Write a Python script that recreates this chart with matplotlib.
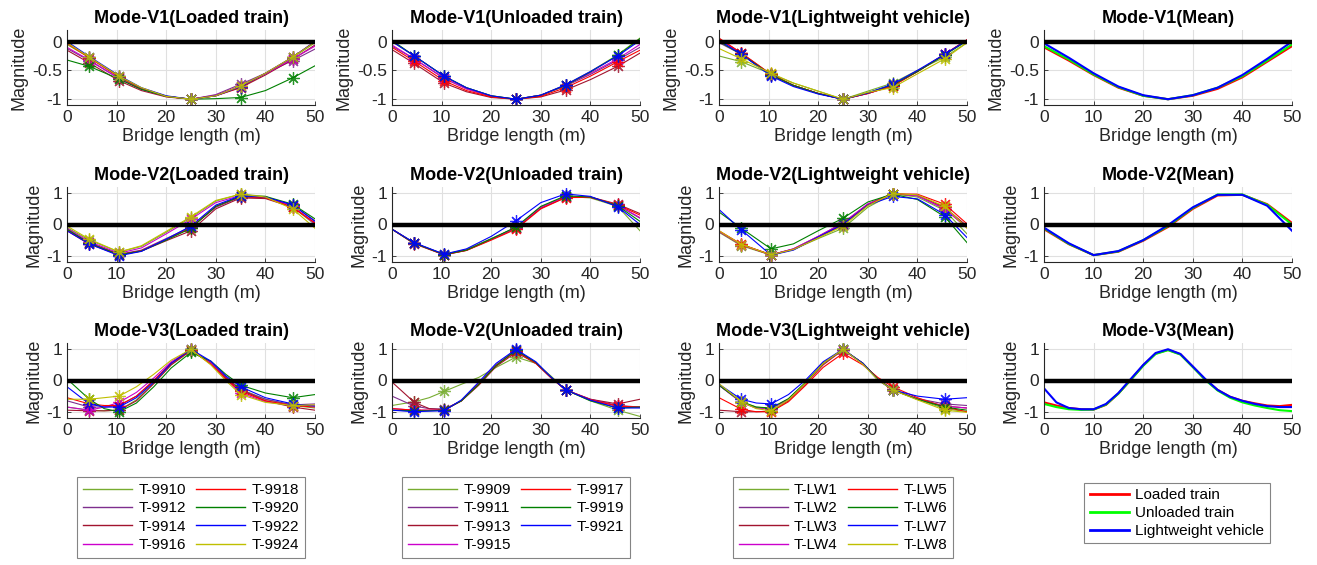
import matplotlib
matplotlib.use("Agg")
import matplotlib.pyplot as plt
from matplotlib.lines import Line2D
import numpy as np

plt.rcParams['font.family'] = ['Liberation Sans', 'DejaVu Sans']
plt.rcParams['axes.unicode_minus'] = False

x12 = [0, 4.5, 10.5, 15, 20, 25, 30, 35, 40, 45.5, 50]
x3 = [0, 4.5, 7.5, 10.5, 14, 17.5, 21, 25, 29, 32, 35, 40, 45.5, 50]
sensors12 = [1, 2, 5, 7, 9]
sensors3 = [1, 3, 7, 10, 12]
xm12 = [0, 5, 10, 15, 20, 25, 30, 35, 40, 45, 50]
xm3 = [0, 2.5, 5, 7.5, 10, 12.5, 15, 17.5, 20, 22.5, 25, 27.5, 30, 32.5, 35, 37.5, 40, 42.5, 45, 47.5, 50]

loaded_names = ['T-9910', 'T-9912', 'T-9914', 'T-9916', 'T-9918', 'T-9920', 'T-9922', 'T-9924']
unloaded_names = ['T-9909', 'T-9911', 'T-9913', 'T-9915', 'T-9917', 'T-9919', 'T-9921']
lw_names = ['T-LW1', 'T-LW2', 'T-LW3', 'T-LW4', 'T-LW5', 'T-LW6', 'T-LW7', 'T-LW8']

colors = [(0.466, 0.674, 0.188), (0.494, 0.184, 0.556), (0.635, 0.078, 0.184), (0.8, 0.0, 0.8),
          (1.0, 0.0, 0.0), (0.0, 0.5, 0.0), (0.0, 0.0, 1.0), (0.75, 0.75, 0.0)]

v1_loaded = [
    [-0.05, -0.28, -0.62, -0.81, -0.95, -1, -0.94, -0.78, -0.56, -0.28, -0.02],
    [-0.12, -0.33, -0.64, -0.82, -0.95, -1, -0.92, -0.74, -0.55, -0.33, -0.13],
    [-0.15, -0.37, -0.68, -0.85, -0.96, -1, -0.94, -0.80, -0.58, -0.31, -0.06],
    [-0.10, -0.32, -0.64, -0.83, -0.95, -1, -0.93, -0.77, -0.56, -0.30, -0.08],
    [-0.03, -0.28, -0.61, -0.81, -0.95, -1, -0.94, -0.79, -0.55, -0.27, 0.00],
    [-0.32, -0.43, -0.65, -0.83, -0.95, -1, -0.99, -0.97, -0.85, -0.63, -0.42],
    [0.00, -0.26, -0.59, -0.80, -0.94, -1, -0.94, -0.78, -0.55, -0.27, 0.00],
    [-0.02, -0.27, -0.60, -0.80, -0.95, -1, -0.94, -0.77, -0.55, -0.27, -0.01],
]
v1_unloaded = [
    [0.00, -0.25, -0.60, -0.80, -0.94, -1, -0.93, -0.75, -0.52, -0.23, 0.06],
    [-0.08, -0.30, -0.64, -0.82, -0.95, -1, -0.93, -0.77, -0.57, -0.32, -0.10],
    [-0.14, -0.38, -0.72, -0.87, -0.97, -1, -0.96, -0.84, -0.66, -0.43, -0.20],
    [-0.06, -0.30, -0.63, -0.82, -0.95, -1, -0.93, -0.76, -0.55, -0.30, -0.05],
    [-0.10, -0.34, -0.68, -0.85, -0.96, -1, -0.95, -0.80, -0.60, -0.35, -0.15],
    [0.02, -0.25, -0.60, -0.80, -0.94, -1, -0.93, -0.76, -0.53, -0.24, 0.05],
    [0.00, -0.25, -0.60, -0.80, -0.94, -1, -0.93, -0.75, -0.52, -0.25, 0.02],
]
v1_lw = [
    [-0.25, -0.35, -0.56, -0.72, -0.86, -1, -0.86, -0.72, -0.50, -0.27, -0.02],
    [-0.02, -0.22, -0.58, -0.76, -0.90, -1, -0.90, -0.76, -0.52, -0.23, 0.02],
    [0.05, -0.20, -0.57, -0.76, -0.90, -1, -0.90, -0.77, -0.52, -0.22, 0.03],
    [0.02, -0.21, -0.58, -0.76, -0.90, -1, -0.90, -0.76, -0.52, -0.22, 0.02],
    [0.06, -0.20, -0.57, -0.76, -0.90, -1, -0.90, -0.77, -0.52, -0.22, 0.03],
    [0.00, -0.22, -0.58, -0.76, -0.90, -1, -0.89, -0.75, -0.52, -0.23, 0.01],
    [0.02, -0.22, -0.60, -0.78, -0.91, -1, -0.89, -0.74, -0.50, -0.22, 0.02],
    [-0.12, -0.30, -0.55, -0.72, -0.86, -1, -0.88, -0.80, -0.56, -0.30, -0.02],
]
v2_loaded = [
    [-0.10, -0.50, -0.88, -0.70, -0.25, 0.22, 0.75, 0.97, 0.90, 0.55, 0.00],
    [-0.15, -0.58, -0.95, -0.82, -0.45, -0.08, 0.55, 0.88, 0.85, 0.62, 0.12],
    [-0.20, -0.63, -0.97, -0.85, -0.52, -0.20, 0.50, 0.85, 0.83, 0.55, 0.05],
    [-0.12, -0.55, -0.92, -0.75, -0.30, 0.17, 0.70, 0.93, 0.88, 0.58, 0.02],
    [-0.18, -0.60, -0.97, -0.84, -0.48, -0.10, 0.58, 0.90, 0.86, 0.55, 0.05],
    [-0.15, -0.60, -0.97, -0.85, -0.50, -0.12, 0.58, 0.90, 0.90, 0.65, 0.18],
    [-0.20, -0.62, -1.00, -0.86, -0.47, -0.05, 0.62, 0.92, 0.88, 0.63, 0.10],
    [-0.05, -0.47, -0.88, -0.68, -0.22, 0.25, 0.77, 0.97, 0.88, 0.50, -0.12],
]
v2_unloaded = [
    [-0.15, -0.60, -0.95, -0.80, -0.45, -0.10, 0.55, 0.90, 0.85, 0.58, -0.20],
    [-0.15, -0.60, -0.96, -0.82, -0.47, -0.10, 0.55, 0.88, 0.87, 0.62, 0.20],
    [-0.15, -0.62, -0.97, -0.83, -0.48, -0.12, 0.52, 0.87, 0.88, 0.65, 0.35],
    [-0.15, -0.60, -0.96, -0.82, -0.47, -0.10, 0.55, 0.88, 0.87, 0.62, 0.22],
    [-0.15, -0.60, -0.97, -0.83, -0.50, -0.15, 0.50, 0.86, 0.87, 0.63, 0.30],
    [-0.15, -0.60, -0.96, -0.82, -0.46, -0.08, 0.58, 0.92, 0.88, 0.60, 0.10],
    [-0.15, -0.58, -0.95, -0.78, -0.38, 0.12, 0.70, 0.98, 0.90, 0.57, 0.00],
]
v2_lw = [
    [-0.25, -0.68, -0.98, -0.80, -0.45, -0.12, 0.55, 0.98, 0.88, 0.45, -0.30],
    [-0.22, -0.65, -0.97, -0.78, -0.38, 0.05, 0.65, 0.99, 0.92, 0.50, -0.10],
    [-0.22, -0.65, -0.97, -0.79, -0.40, 0.00, 0.63, 0.99, 0.93, 0.55, -0.05],
    [-0.22, -0.65, -0.97, -0.78, -0.38, 0.05, 0.66, 0.99, 0.92, 0.50, -0.10],
    [-0.20, -0.63, -0.97, -0.80, -0.42, 0.00, 0.62, 0.98, 0.97, 0.65, 0.02],
    [0.40, -0.12, -0.78, -0.62, -0.20, 0.20, 0.72, 0.97, 0.80, 0.25, -0.58],
    [0.48, -0.17, -0.98, -0.82, -0.40, 0.00, 0.62, 0.90, 0.82, 0.32, -0.42],
    [-0.20, -0.64, -0.97, -0.80, -0.43, -0.05, 0.60, 0.99, 0.95, 0.58, -0.12],
]
v3_loaded = [
    [-0.85, -0.95, -0.97, -0.95, -0.62, -0.08, 0.50, 0.95, 0.55, 0.10, -0.28, -0.60, -0.80, -0.88],
    [-0.65, -0.85, -0.85, -0.80, -0.50, 0.00, 0.55, 0.97, 0.58, 0.12, -0.30, -0.60, -0.78, -0.75],
    [-0.95, -0.97, -0.97, -0.95, -0.65, -0.10, 0.50, 0.97, 0.55, 0.08, -0.30, -0.65, -0.85, -0.95],
    [-0.85, -0.95, -0.85, -0.70, -0.38, 0.08, 0.60, 1.00, 0.55, 0.05, -0.40, -0.68, -0.80, -0.80],
    [-0.55, -0.75, -0.80, -0.80, -0.50, 0.00, 0.55, 0.98, 0.52, 0.05, -0.35, -0.65, -0.80, -0.85],
    [0.05, -0.60, -0.90, -1.00, -0.72, -0.20, 0.40, 0.90, 0.62, 0.20, -0.15, -0.40, -0.55, -0.45],
    [-0.20, -0.75, -0.85, -0.85, -0.55, -0.05, 0.55, 1.00, 0.62, 0.15, -0.20, -0.55, -0.75, -0.82],
    [-0.60, -0.60, -0.55, -0.50, -0.20, 0.20, 0.65, 1.00, 0.50, 0.00, -0.45, -0.70, -0.80, -0.78],
]
v3_unloaded = [
    [-0.80, -0.68, -0.55, -0.35, -0.12, 0.10, 0.42, 0.75, 0.55, 0.15, -0.30, -0.65, -0.95, -1.15],
    [-0.50, -0.82, -0.90, -0.92, -0.65, -0.10, 0.50, 0.95, 0.55, 0.10, -0.30, -0.60, -0.80, -0.85],
    [-0.05, -0.70, -0.90, -0.93, -0.65, -0.15, 0.45, 0.90, 0.55, 0.10, -0.30, -0.60, -0.75, -0.60],
    [-0.90, -0.95, -0.95, -0.95, -0.65, -0.10, 0.50, 0.97, 0.56, 0.10, -0.30, -0.62, -0.82, -0.85],
    [-0.90, -0.95, -0.95, -0.95, -0.65, -0.12, 0.48, 0.95, 0.55, 0.10, -0.30, -0.62, -0.82, -0.85],
    [-0.95, -0.97, -0.97, -0.95, -0.65, -0.12, 0.48, 0.97, 0.58, 0.12, -0.30, -0.65, -0.88, -0.85],
    [-0.95, -1.00, -0.98, -0.97, -0.62, -0.05, 0.55, 1.00, 0.60, 0.12, -0.30, -0.63, -0.88, -0.88],
]
v3_lw = [
    [-0.15, -0.68, -0.85, -0.90, -0.60, -0.08, 0.55, 1.00, 0.55, 0.05, -0.30, -0.60, -0.90, -1.00],
    [-0.15, -0.70, -0.88, -0.90, -0.60, -0.08, 0.55, 0.98, 0.55, 0.05, -0.30, -0.58, -0.75, -0.80],
    [-0.95, -1.00, -1.00, -0.98, -0.65, -0.10, 0.50, 0.98, 0.55, 0.05, -0.28, -0.60, -0.82, -0.88],
    [-0.15, -0.70, -0.88, -0.90, -0.60, -0.08, 0.55, 0.98, 0.55, 0.05, -0.30, -0.60, -0.82, -0.88],
    [-0.55, -0.92, -1.00, -1.00, -0.68, -0.15, 0.42, 0.87, 0.50, 0.10, -0.20, -0.55, -0.85, -1.00],
    [-0.15, -0.68, -0.85, -0.88, -0.58, -0.05, 0.55, 1.00, 0.55, 0.05, -0.30, -0.60, -0.85, -0.95],
    [-0.12, -0.60, -0.72, -0.75, -0.45, 0.02, 0.60, 1.00, 0.55, 0.02, -0.30, -0.50, -0.60, -0.55],
    [-0.10, -0.68, -0.90, -0.97, -0.62, -0.08, 0.55, 1.00, 0.52, 0.02, -0.30, -0.62, -0.95, -1.02],
]

# mean mode shapes (loaded, unloaded, lightweight)
v1_mean_loaded = [-0.10, -0.33, -0.58, -0.80, -0.94, -1.0, -0.94, -0.82, -0.62, -0.35, -0.08]
v1_mean_unloaded = [-0.08, -0.31, -0.57, -0.79, -0.94, -1.0, -0.93, -0.80, -0.60, -0.33, -0.05]
v1_mean_lw = [-0.03, -0.28, -0.55, -0.78, -0.93, -1.0, -0.93, -0.80, -0.58, -0.30, 0.00]
v2_mean_loaded = [-0.15, -0.63, -0.98, -0.87, -0.52, -0.08, 0.50, 0.93, 0.95, 0.65, 0.05]
v2_mean_unloaded = [-0.12, -0.62, -0.98, -0.86, -0.50, -0.05, 0.53, 0.96, 0.96, 0.63, 0.00]
v2_mean_lw = [-0.10, -0.60, -0.98, -0.85, -0.50, -0.02, 0.55, 0.95, 0.95, 0.60, -0.20]
v3_mean_loaded = [-0.70, -0.80, -0.88, -0.92, -0.93, -0.78, -0.42, 0.02, 0.48, 0.86, 0.98, 0.84, 0.44, 0.03,
                  -0.30, -0.52, -0.65, -0.73, -0.80, -0.82, -0.78]
v3_mean_unloaded = [-0.75, -0.85, -0.92, -0.94, -0.93, -0.77, -0.42, 0.02, 0.47, 0.85, 0.97, 0.83, 0.43, 0.02,
                    -0.32, -0.55, -0.70, -0.80, -0.88, -0.95, -0.98]
v3_mean_lw = [-0.25, -0.70, -0.88, -0.92, -0.92, -0.75, -0.40, 0.05, 0.50, 0.88, 1.00, 0.85, 0.45, 0.05,
              -0.30, -0.52, -0.65, -0.75, -0.82, -0.85, -0.85]

W, H = 1317, 565
fig = plt.figure(figsize=(W / 100, H / 100), dpi=100)

col_left = [67, 392, 719, 1044]
row_top = [30, 187, 343]
ax_w, ax_h = 248, 75


def make_ax(r, c):
    return fig.add_axes([col_left[c] / W, 1 - (row_top[r] + ax_h) / H, ax_w / W, ax_h / H])


def style(ax, title, ylim, yticks):
    ax.set_xlim(0, 50)
    ax.set_ylim(*ylim)
    ax.set_xticks([0, 10, 20, 30, 40, 50])
    ax.set_yticks(yticks)
    ax.set_yticklabels([('%g' % t) for t in yticks])
    ax.grid(True, color=(0.88, 0.88, 0.88), lw=0.8)
    ax.set_axisbelow(True)
    for s in ['top', 'right']:
        ax.spines[s].set_visible(False)
    for s in ['left', 'bottom']:
        ax.spines[s].set_color((0.15, 0.15, 0.15))
        ax.spines[s].set_linewidth(0.8)
    ax.tick_params(labelsize=12.5, colors=(0.15, 0.15, 0.15), direction='in', length=3, width=0.6)
    ax.set_title(title, fontsize=13, fontweight='bold', pad=5)
    ax.set_xlabel('Bridge length (m)', fontsize=13, labelpad=2, color=(0.15, 0.15, 0.15))
    ax.set_ylabel('Magnitude', fontsize=13, labelpad=3, color=(0.15, 0.15, 0.15))
    ax.axhline(0, color='black', lw=3.2, zorder=5)


asterisk = (8, 2, 0)
modes = [
    ('V1', x12, sensors12, [v1_loaded, v1_unloaded, v1_lw], (-1.1, 0.2), [-1, -0.5, 0]),
    ('V2', x12, sensors12, [v2_loaded, v2_unloaded, v2_lw], (-1.2, 1.2), [-1, 0, 1]),
    ('V3', x3, sensors3, [v3_loaded, v3_unloaded, v3_lw], (-1.2, 1.2), [-1, 0, 1]),
]
titles = [
    ['Mode-V1(Loaded train)', 'Mode-V1(Unloaded train)', 'Mode-V1(Lightweight vehicle)', 'Mode-V1(Mean)'],
    ['Mode-V2(Loaded train)', 'Mode-V2(Unloaded train)', 'Mode-V2(Lightweight vehicle)', 'Mode-V2(Mean)'],
    ['Mode-V3(Loaded train)', 'Mode-V2(Unloaded train)', 'Mode-V3(Lightweight vehicle)', 'Mode-V3(Mean)'],
]
means = [
    (xm12, [v1_mean_loaded, v1_mean_unloaded, v1_mean_lw]),
    (xm12, [v2_mean_loaded, v2_mean_unloaded, v2_mean_lw]),
    (xm3, [v3_mean_loaded, v3_mean_unloaded, v3_mean_lw]),
]
mean_colors = ['red', (0, 1, 0), 'blue']
mean_names = ['Loaded train', 'Unloaded train', 'Lightweight vehicle']

for r, (mode, xs, sens, groups, ylim, yticks) in enumerate(modes):
    xs = np.array(xs)
    for c, group in enumerate(groups):
        ax = make_ax(r, c)
        for i, ys in enumerate(group):
            ys = np.array(ys)
            ax.plot(xs, ys, color=colors[i], lw=0.8)
            ax.plot(xs[sens], ys[sens], ls='none', marker=asterisk, ms=9, mew=0.9,
                    color=colors[i], alpha=0.85)
        style(ax, titles[r][c], ylim, yticks)
    ax = make_ax(r, 3)
    xm, mlist = means[r]
    for ys, col in zip(mlist, mean_colors):
        ax.plot(xm, ys, color=col, lw=1.5)
    style(ax, titles[r][3], ylim, yticks)

# legends beneath each column
leg_kw = dict(loc='upper center', ncol=2, fontsize=11, frameon=True, fancybox=False,
              edgecolor=(0.4, 0.4, 0.4), handlelength=3.2, handletextpad=0.4,
              columnspacing=0.7, labelspacing=0.28, borderpad=0.4, borderaxespad=0)
for c, names in enumerate([loaded_names, unloaded_names, lw_names]):
    handles = [Line2D([], [], color=colors[i], lw=1) for i in range(len(names))]
    leg = fig.legend(handles, names, bbox_to_anchor=((col_left[c] + ax_w / 2) / W, 1 - 477 / H), **leg_kw)
    leg.get_frame().set_linewidth(0.8)

handles = [Line2D([], [], color=col, lw=2) for col in mean_colors]
leg = fig.legend(handles, mean_names, loc='upper center', fontsize=11, frameon=True, fancybox=False,
                 edgecolor=(0.4, 0.4, 0.4), handlelength=2.6, handletextpad=0.4, labelspacing=0.25,
                 borderpad=0.35, borderaxespad=0, bbox_to_anchor=(1177 / W, 1 - 483 / H))
leg.get_frame().set_linewidth(0.8)

fig.savefig('out.png', dpi=100)
